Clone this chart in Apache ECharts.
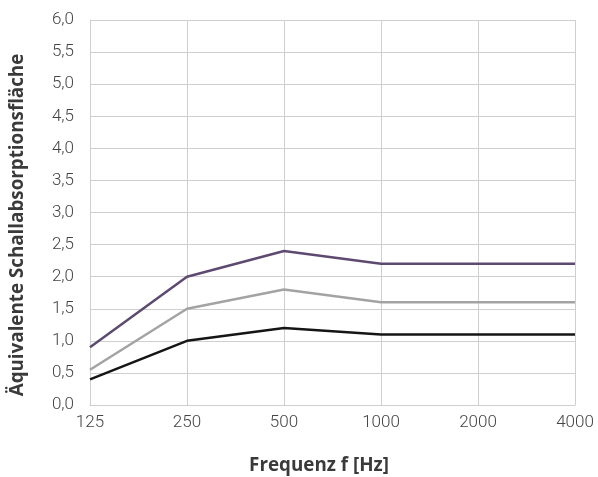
<!DOCTYPE html>
<html><head><meta charset="utf-8">
<script src="https://cdn.jsdelivr.net/npm/echarts@6/dist/echarts.min.js"></script>
<style>html,body{margin:0;padding:0;background:#fff}#c{width:598px;height:477px}</style>
</head><body><div id="c"></div>
<script>
const categories = ['125', '250', '500', '1000', '2000', '4000'];
const seriesPurple = [0.9, 2.0, 2.4, 2.2, 2.2, 2.2];
const seriesGrey = [0.55, 1.5, 1.8, 1.6, 1.6, 1.6];
const seriesBlack = [0.4, 1.0, 1.2, 1.1, 1.1, 1.1];
const yTicks = {min: 0, max: 6, interval: 0.5};
const xTitle = 'Frequenz f [Hz]';
const yTitle = 'Äquivalente Schallabsorptionsfläche';

const chart = echarts.init(document.getElementById('c'), null, {renderer: 'canvas'});
const mk = (data, color) => ({type: 'line', data, symbol: 'none', lineStyle: {color, width: 2.5}, itemStyle: {color}, animation: false});
const titleFont = {fontFamily: 'Open Sans', fontWeight: 'bold', fontSize: 18.8, fill: '#3a3a3a', textAlign: 'center', textVerticalAlign: 'middle'};
chart.setOption({
  animation: false,
  grid: {left: 90, right: 23, top: 20, bottom: 72, containLabel: false, outerBoundsMode: 'none'},
  graphic: [
    {type: 'text', x: 319, y: 466, style: Object.assign({text: xTitle}, titleFont), silent: true},
    {type: 'text', x: 18, y: 225, rotation: Math.PI / 2, style: Object.assign({text: yTitle}, titleFont), silent: true}
  ],
  xAxis: {
    type: 'category', data: categories, boundaryGap: false,
    axisLine: {show: true, lineStyle: {color: '#cfcfcf', width: 1}},
    axisTick: {show: false},
    axisLabel: {margin: 9, fontFamily: 'Roboto', fontWeight: 300, fontSize: 17, color: '#444'},
    splitLine: {show: true, lineStyle: {color: '#cfcfcf', width: 1}}
  },
  yAxis: {
    type: 'value', min: yTicks.min, max: yTicks.max, interval: yTicks.interval,
    axisLine: {show: true, lineStyle: {color: '#cfcfcf', width: 1}},
    axisTick: {show: false},
    axisLabel: {margin: 16, fontFamily: 'Roboto', fontWeight: 300, fontSize: 17, color: '#444',
      formatter: v => v.toFixed(1).replace('.', ',')},
    splitLine: {show: true, lineStyle: {color: '#cfcfcf', width: 1}}
  },
  series: [mk(seriesGrey, '#a3a3a3'), mk(seriesBlack, '#151515'), mk(seriesPurple, '#5e4a70')]
});
</script></body></html>
